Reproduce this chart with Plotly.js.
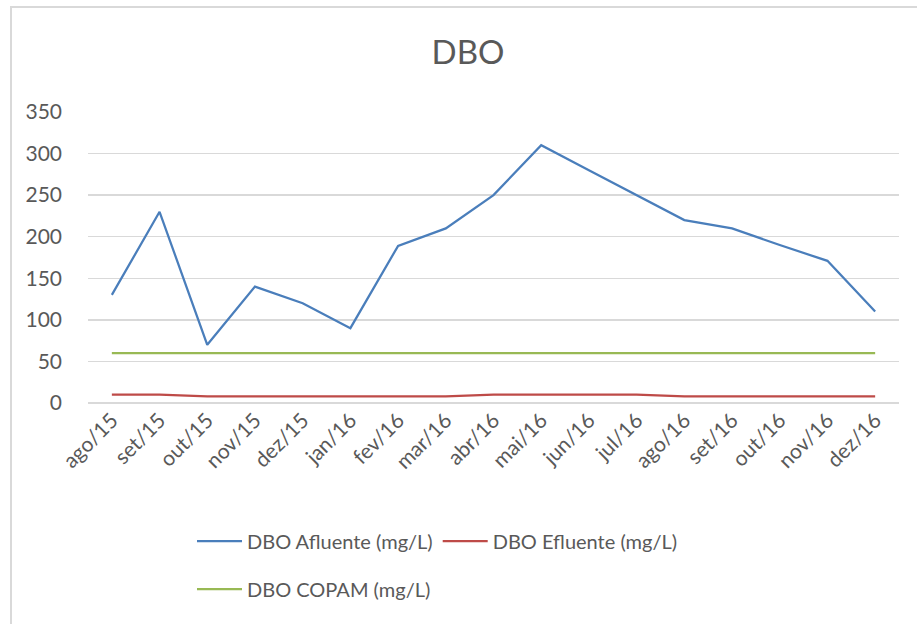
<!DOCTYPE html>
<html>
<head>
<meta charset="utf-8">
<script src="https://cdn.plot.ly/plotly-3.0.1.min.js"></script>
<style>
  html, body { margin: 0; padding: 0; background: #fff; }
  #chart { width: 917px; height: 624px; position: relative; }
  #frame { position: absolute; left: 10px; top: 6px; width: 920px; height: 630px;
           border-left: 2px solid #d9d9d9; border-top: 2px solid #d9d9d9; pointer-events: none; }
</style>
</head>
<body>
<div id="chart"></div>
<div id="frame"></div>
<script>
const months = ["ago/15","set/15","out/15","nov/15","dez/15","jan/16","fev/16","mar/16","abr/16",
                "mai/16","jun/16","jul/16","ago/16","set/16","out/16","nov/16","dez/16"];
const afluente = [130, 230, 70, 140, 120, 90, 189, 210, 250, 310, 280, 250, 220, 210, 190, 171, 110];
const efluente = [10, 10, 8, 8, 8, 8, 8, 8, 10, 10, 10, 10, 8, 8, 8, 8, 8];
const copam    = [60, 60, 60, 60, 60, 60, 60, 60, 60, 60, 60, 60, 60, 60, 60, 60, 60];
const yTicks = [0, 50, 100, 150, 200, 250, 300, 350];

const font = "Lato, 'Open Sans', sans-serif";
const gray = "#595959";

const traces = [
  {x: months, y: afluente, name: "DBO Afluente (mg/L)", type: "scatter", mode: "lines",
   line: {color: "#4a7ebb", width: 2.25}, legend: "legend"},
  {x: months, y: efluente, name: "DBO Efluente (mg/L)", type: "scatter", mode: "lines",
   line: {color: "#be4b48", width: 2.25}, legend: "legend"},
  {x: months, y: copam, name: "DBO COPAM (mg/L)", type: "scatter", mode: "lines",
   line: {color: "#98b954", width: 2.25}, legend: "legend2"}
];

const layout = {
  width: 917, height: 624,
  margin: {l: 88, r: 18, t: 112, b: 221},
  paper_bgcolor: "#fff", plot_bgcolor: "#fff",
  font: {family: font, color: gray, size: 20},
  title: {text: "DBO", font: {family: font, size: 33, color: gray},
          x: 468/917, xref: "container", xanchor: "center",
          y: 1 - 52/624, yref: "container", yanchor: "middle"},
  xaxis: {type: "category", tickangle: -45, tickfont: {size: 21, color: gray},
          showgrid: false, showline: false, zeroline: false, ticks: "",
          range: [-0.5, months.length - 0.5]},
  yaxis: {range: [0, 350], tickvals: yTicks, ticktext: yTicks.map(String),
          tickfont: {size: 21, color: gray}, gridcolor: "#d9d9d9", gridwidth: 1.5,
          zeroline: true, zerolinecolor: "#d9d9d9", zerolinewidth: 1.5,
          showline: false, ticks: "", ticklabelstandoff: 25},
  showlegend: true,
  legend: {orientation: "h", xref: "container", yref: "container",
           x: 192/917, xanchor: "left", y: 1 - 541/624, yanchor: "middle", itemwidth: 45,
           font: {family: font, size: 20, color: gray}, bgcolor: "rgba(0,0,0,0)"},
  legend2: {orientation: "h", xref: "container", yref: "container",
           x: 192/917, xanchor: "left", y: 1 - 589/624, yanchor: "middle", itemwidth: 45,
           font: {family: font, size: 20, color: gray}, bgcolor: "rgba(0,0,0,0)"}
};

Plotly.newPlot("chart", traces, layout, {displayModeBar: false, staticPlot: true});
</script>
</body>
</html>
